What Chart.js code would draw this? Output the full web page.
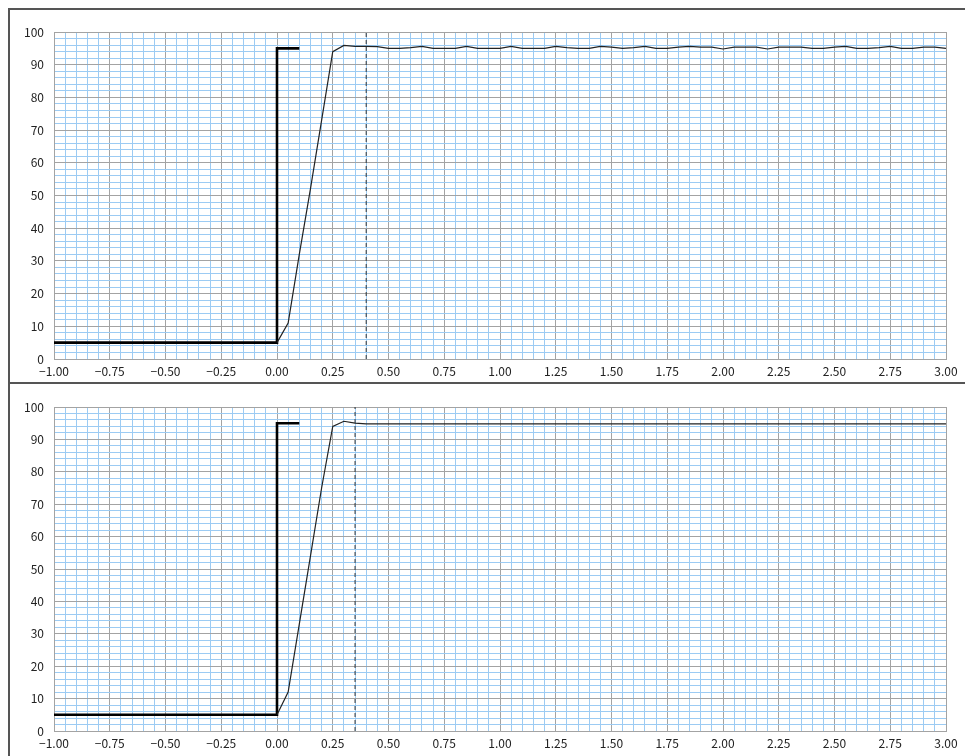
<!DOCTYPE html>
<html>
<head>
<meta charset="utf-8">
<script src="https://cdn.jsdelivr.net/npm/chart.js@4"></script>
<style>
  html, body { margin: 0; padding: 0; background: #fff; }
  body { width: 965px; height: 756px; position: relative; overflow: hidden; }
  #frame { position: absolute; left: 8px; top: 8px; width: 980px; height: 780px;
           border: 2px solid #555; box-sizing: border-box; }
  #sep { position: absolute; left: 8px; top: 382px; width: 970px; height: 2px; background: #555; }
  .box { position: absolute; left: 10px; width: 955px; }
</style>
</head>
<body>
<div id="frame"></div>
<div id="sep"></div>
<div class="box" style="top:10px;height:372px"><canvas id="topChart"></canvas></div>
<div class="box" style="top:384px;height:372px"><canvas id="bottomChart"></canvas></div>
<script>
// step input (thick line)
const stepX = [-1, 0, 0, 0.1];
const stepY = [5, 5, 95, 95];

// response, upper chart
const topX = [0, 0.05, 0.1, 0.15, 0.2, 0.25, 0.3, 0.35, 0.4, 0.45, 0.5, 0.55, 0.6, 0.65, 0.7, 0.75,
  0.8, 0.85, 0.9, 0.95, 1, 1.05, 1.1, 1.15, 1.2, 1.25, 1.3, 1.35, 1.4, 1.45, 1.5, 1.55, 1.6, 1.65,
  1.7, 1.75, 1.8, 1.85, 1.9, 1.95, 2, 2.05, 2.1, 2.15, 2.2, 2.25, 2.3, 2.35, 2.4, 2.45, 2.5, 2.55,
  2.6, 2.65, 2.7, 2.75, 2.8, 2.85, 2.9, 2.95, 3];
const topY = [5, 11, 32, 52, 73, 94, 95.9, 95.6, 95.6, 95.5, 95.0, 95.0, 95.2, 95.6, 95.0, 95.0,
  95.0, 95.6, 95.0, 95.0, 95.0, 95.6, 95.0, 95.0, 95.0, 95.6, 95.2, 95.0, 95.0, 95.6, 95.4, 95.0,
  95.2, 95.6, 95.0, 95.0, 95.4, 95.6, 95.4, 95.4, 94.8, 95.4, 95.4, 95.4, 94.8, 95.4, 95.4, 95.4,
  95.0, 95.0, 95.4, 95.6, 95.0, 95.0, 95.2, 95.6, 95.0, 95.0, 95.4, 95.4, 95.0];
const topMarker = 0.40;

// response, lower chart
const bottomX = [0, 0.05, 0.1, 0.15, 0.2, 0.25, 0.3, 0.35, 0.4, 3];
const bottomY = [5, 12, 33, 54, 75, 94, 95.6, 95.0, 94.8, 94.8];
const bottomMarker = 0.35;

const xMin = -1, xMax = 3, xStep = 0.05, xMajor = 0.25;
const yMin = 0, yMax = 100, yStep = 2, yMajor = 10;

const MAJOR = '#a3a3a3';
const MINOR = '#9ccbf3';

function isMultiple(v, m) {
  const r = v / m;
  return Math.abs(r - Math.round(r)) < 1e-6;
}

function fmt(v) {
  const s = Math.abs(v).toFixed(2);
  return v < -1e-9 ? '\u2212' + s : s;
}

function pts(xs, ys) {
  return xs.map((x, i) => ({ x: x, y: ys[i] }));
}

function makeChart(id, respX, respY, marker, padTop, xHeight) {
  const ctx = document.getElementById(id);
  return new Chart(ctx, {
    type: 'line',
    data: {
      datasets: [
        {
          data: pts([marker, marker], [yMin, yMax]),
          borderColor: '#333',
          borderWidth: 1,
          borderDash: [4, 3],
          pointRadius: 0
        },
        {
          data: pts(respX, respY),
          borderColor: '#222',
          borderWidth: 1.2,
          pointRadius: 0,
          tension: 0
        },
        {
          data: pts(stepX, stepY),
          borderColor: '#000',
          borderWidth: 2.6,
          pointRadius: 0
        }
      ]
    },
    options: {
      responsive: true,
      maintainAspectRatio: false,
      animation: false,
      layout: { padding: { top: padTop, right: 19, left: 0, bottom: 0 } },
      plugins: { legend: { display: false }, tooltip: { enabled: false } },
      scales: {
        x: {
          type: 'linear',
          min: xMin,
          max: xMax,
          afterFit: function(scale) { scale.height = xHeight; },
          border: { color: MAJOR },
          grid: {
            drawTicks: false,
            lineWidth: 1,
            color: c => isMultiple(c.tick.value, xMajor) ? MAJOR : MINOR
          },
          ticks: {
            stepSize: xStep,
            autoSkip: false,
            maxRotation: 0,
            padding: 5,
            color: '#222',
            font: { family: "'Noto Sans CJK JP', 'Noto Sans', sans-serif", size: 12 },
            callback: v => isMultiple(v, xMajor) ? fmt(v) : ''
          }
        },
        y: {
          min: yMin,
          max: yMax,
          afterFit: function(scale) { scale.width = 44; },
          border: { color: MAJOR },
          grid: {
            drawTicks: false,
            lineWidth: 1,
            color: c => isMultiple(c.tick.value, yMajor) ? MAJOR : MINOR
          },
          ticks: {
            stepSize: yStep,
            autoSkip: false,
            padding: 10,
            color: '#222',
            font: { family: "'Noto Sans CJK JP', 'Noto Sans', sans-serif", size: 12 },
            callback: v => isMultiple(v, yMajor) ? String(Math.round(v)) : ''
          }
        }
      }
    }
  });
}

makeChart('topChart', topX, topY, topMarker, 22, 23);
makeChart('bottomChart', bottomX, bottomY, bottomMarker, 23, 25);
</script>
</body>
</html>
